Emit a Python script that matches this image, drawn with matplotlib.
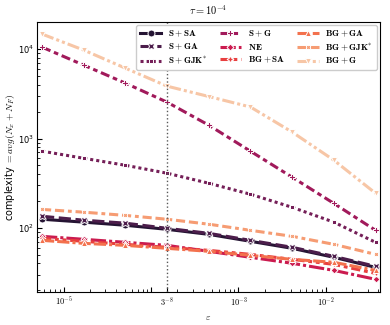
import numpy as np
import matplotlib
matplotlib.use('Agg')
import matplotlib.pyplot as plt
import seaborn as sns

# epsilon = 3^-k, k = 11 .. 3
eps = [3.0 ** -k for k in range(11, 2, -1)]

names = [r'$\mathbf{S + SA}$', r'$\mathbf{S + GA}$', r'$\mathbf{S + GJK^{*}}$',
         r'$\mathbf{S + G}$', r'$\mathbf{NE}$', r'$\mathbf{BG + SA}$',
         r'$\mathbf{BG + GA}$', r'$\mathbf{BG + GJK^{*}}$', r'$\mathbf{BG + G}$']

s_sa = [125, 116, 107, 96.4, 84.7, 70.8, 59.1, 46.9, 36.2]
s_ga = [135, 122, 113, 99, 87, 72.6, 60.7, 48.1, 37.2]
s_gjk = [722, 601, 502, 409, 316, 238, 170, 116, 69]
s_g = [10520, 6620, 4160, 2550, 1410, 721, 369, 188, 94]
ne = [80.5, 74.6, 69.0, 63.8, 54.7, 46.9, 40.2, 33.5, 26.6]
bg_sa = [76.5, 70.8, 65.5, 60.7, 56.1, 50.6, 44.5, 39.1, 31.0]
bg_ga = [72.6, 67.2, 63.8, 59.1, 54.7, 49.3, 44.5, 41.2, 33.5]
bg_gjk = [161, 150, 138, 125, 110, 94, 80.5, 65.5, 50.6]
bg_g = [14740, 9750, 6120, 3850, 2950, 2250, 1180, 572, 244]

series = [s_sa, s_ga, s_gjk, s_g, ne, bg_sa, bg_ga, bg_gjk, bg_g]

# seaborn-like default markers and dashes
markers = ['o', 'X', (4, 0, 45), 'P', (4, 0, 0), (4, 1, 0), '^', (4, 1, 45), 'v']
dashes = [None, (4, 1.5), (1, 1), (3, 1.25, 1.5, 1.25), (5, 1, 1, 1),
          (3, 1.25, 1.25, 1.25, 1.25, 1.25), (4, 1, 4, 1, 1, 1),
          (3, 1.25, 3, 1.25, 1.25, 1.25), (4, 1, 1, 1, 1, 1)]

colors = sns.color_palette('rocket', 9)

plt.rcParams['mathtext.fontset'] = 'cm'
plt.rcParams['font.size'] = 7

fig = plt.figure(figsize=(3.9, 3.25), dpi=100)
ax = fig.add_axes([0.095, 0.1015, 0.879, 0.8305])

for name, vals, m, d, c in zip(names, series, markers, dashes, colors):
    line, = ax.plot(eps, vals, color=c, marker=m, markersize=5, markeredgecolor='white',
                    markeredgewidth=0.7, lw=2.2, label=name)
    if d is not None:
        line.set_dashes(d)

ax.axvline(3.0 ** -8, color='0.35', ls=':', lw=1)

ax.set_xscale('log')
ax.set_yscale('log')
ax.set_xlim(10 ** -5.305, 10 ** -1.382)
ax.set_ylim(10 ** 1.283, 10 ** 4.302)

ax.set_xticks([1e-5, 1e-4, 3.0 ** -8, 1e-3, 1e-2])
ax.set_xticklabels([r'$10^{-5}$', '', r'$3^{-8}$', r'$10^{-3}$', r'$10^{-2}$'])
ax.tick_params(which='both', direction='in', labelsize=6, pad=2)
ax.tick_params(which='major', length=3.5)
ax.tick_params(which='minor', length=2)

ax.set_xlabel(r'$\varepsilon$', fontsize=7, labelpad=3)
ax.set_ylabel(r'complexity $= avg(N_x + N_F)$', fontsize=7, labelpad=1)
ax.set_title(r'$\tau = 10^{-4}$', fontsize=7.5, pad=5)

ax.legend(ncol=3, loc='upper right', fontsize=6.5, handlelength=2.4, columnspacing=1.4,
          labelspacing=0.3, borderaxespad=0.35, handletextpad=0.7, framealpha=1)

fig.savefig('out.png', dpi=100)
